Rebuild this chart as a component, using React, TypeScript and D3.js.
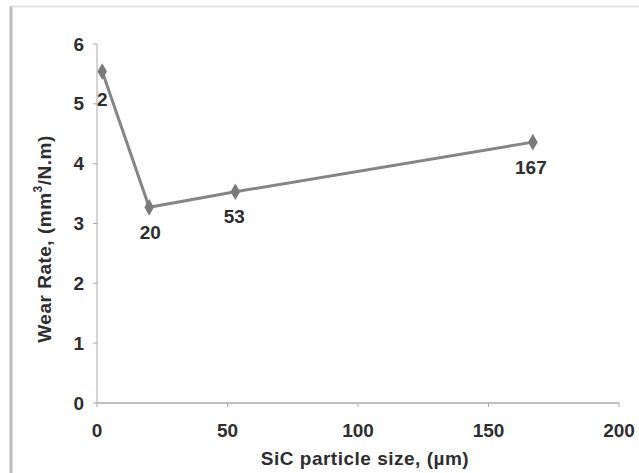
import React from "react";
import * as d3 from "d3";

// SiC particle size (µm) vs. wear rate (mm³/N.m)
const particleSizes = [2, 20, 53, 167];
const wearRates = [5.54, 3.27, 3.53, 4.36];
const pointLabels = ["2", "20", "53", "167"];
const xTicks = [0, 50, 100, 150, 200];
const yTicks = [0, 1, 2, 3, 4, 5, 6];

const W = 639;
const H = 473;
const margin = { left: 97, top: 44 };
const font = "'Liberation Sans', Arial, sans-serif";
const textFill = "#2e2e2e";

export default function App() {
  const x = d3.scaleLinear().domain([0, 200]).range([margin.left, 619]);
  const y = d3.scaleLinear().domain([0, 6]).range([403, margin.top]);

  const line = d3
    .line<number>()
    .x((_, i) => x(particleSizes[i]))
    .y((d) => y(d));

  const diamond = d3.symbol().type(d3.symbolDiamond).size(80)() as string;

  // label offsets relative to each point
  const labelOffsets = [
    { dx: 0, dy: 28 },
    { dx: 1, dy: 25 },
    { dx: -1, dy: 25 },
    { dx: -2, dy: 25 },
  ];

  return (
    <svg
      width={W}
      height={H}
      style={{ position: "absolute", left: 0, top: 0, background: "#fff" }}
    >
      {/* frame */}
      <line x1={11} x2={11} y1={6} y2={H} stroke="#bdbdbd" strokeWidth={3} />
      <line x1={11} x2={W} y1={6.5} y2={6.5} stroke="#e2e2e2" strokeWidth={2} />

      {/* axes */}
      <line x1={x(0)} x2={x(0)} y1={y(6)} y2={y(0)} stroke="#aaa" strokeWidth={1} />
      <line x1={x(0)} x2={x(200)} y1={y(0)} y2={y(0)} stroke="#aaa" strokeWidth={1.5} />
      {yTicks.map((t) => (
        <g key={"y" + t}>
          <line x1={x(0) - 4} x2={x(0)} y1={y(t)} y2={y(t)} stroke="#aaa" />
          <text
            x={84}
            y={y(t)}
            textAnchor="end"
            dominantBaseline="central"
            fontFamily={font}
            fontWeight="bold"
            fontSize={19}
            fill={textFill}
          >
            {t}
          </text>
        </g>
      ))}
      {xTicks.map((t) => (
        <g key={"x" + t}>
          <line x1={x(t)} x2={x(t)} y1={y(0)} y2={y(0) + 4} stroke="#aaa" />
          <text
            x={x(t)}
            y={430}
            textAnchor="middle"
            dominantBaseline="central"
            fontFamily={font}
            fontWeight="bold"
            fontSize={19}
            fill={textFill}
          >
            {t}
          </text>
        </g>
      ))}

      {/* axis titles */}
      <text
        x={365}
        y={458}
        textAnchor="middle"
        dominantBaseline="central"
        fontFamily={font}
        fontWeight="bold"
        fontSize={19}
        letterSpacing={0.5}
        fill={textFill}
      >
        SiC particle size, (µm)
      </text>
      <text
        transform={`translate(44,239) rotate(-90)`}
        textAnchor="middle"
        dominantBaseline="central"
        fontFamily={font}
        fontWeight="bold"
        fontSize={19}
        letterSpacing={0.5}
        fill={textFill}
      >
        Wear Rate, (mm
        <tspan dy={-6} fontSize={12}>3</tspan>
        <tspan dy={6}>/N.m)</tspan>
      </text>

      {/* series */}
      <path d={line(wearRates) ?? ""} fill="none" stroke="#858585" strokeWidth={3} />
      {wearRates.map((v, i) => (
        <path
          key={"m" + i}
          d={diamond}
          transform={`translate(${x(particleSizes[i])},${y(v)})`}
          fill="#7a7a7a"
        />
      ))}
      {wearRates.map((v, i) => (
        <text
          key={"l" + i}
          x={x(particleSizes[i]) + labelOffsets[i].dx}
          y={y(v) + labelOffsets[i].dy}
          textAnchor="middle"
          dominantBaseline="central"
          fontFamily={font}
          fontSize={19}
          fontWeight="bold"
          fill={textFill}
        >
          {pointLabels[i]}
        </text>
      ))}
    </svg>
  );
}
